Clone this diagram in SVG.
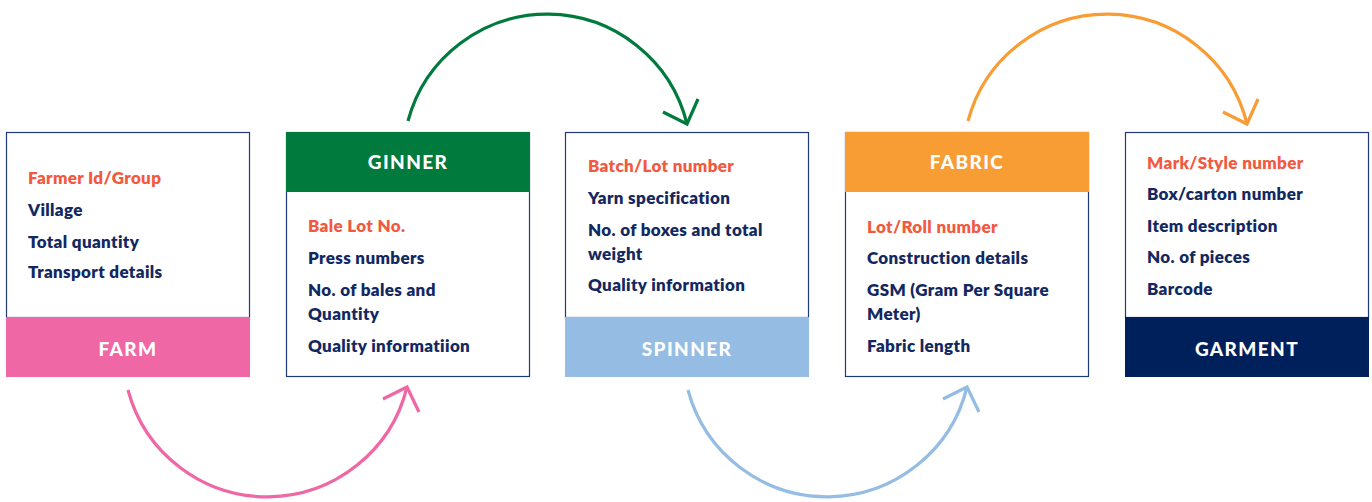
<svg xmlns="http://www.w3.org/2000/svg" width="1372" height="502" viewBox="0 0 1372 502">
<defs>
<style>
.box{fill:#fff;stroke:#1f3a78;stroke-width:1.2}
.it{font-family:Lato,"Liberation Sans",sans-serif;font-weight:800;font-size:17px;letter-spacing:0.35px;fill:#13285f}
.hl{fill:#f15a40}
.ttl{font-family:Lato,"Liberation Sans",sans-serif;font-weight:900;font-size:19px;fill:#fff;text-anchor:middle;letter-spacing:1.4px}
.arc{fill:none;stroke-width:3.2;stroke-linecap:butt;stroke-linejoin:miter}
</style>
</defs>
<rect width="1372" height="502" fill="#fff"/>
<g id="farm">
<rect class="box" x="6.5" y="132.5" width="243" height="185"/>
<rect x="6" y="317" width="244" height="60" fill="#f067a6"/>
<text class="ttl" x="128" y="356">FARM</text>
<text class="it hl" x="28" y="184">Farmer Id/Group</text>
<text class="it" x="28" y="216">Village</text>
<text class="it" x="28" y="248">Total quantity</text>
<text class="it" x="28" y="278">Transport details</text>
</g>
<g id="ginner">
<rect class="box" x="286.5" y="132.5" width="243" height="244"/>
<rect x="286" y="132" width="244" height="60" fill="#007a3d"/>
<text class="ttl" x="408" y="169">GINNER</text>
<text class="it hl" x="308" y="232">Bale Lot No.</text>
<text class="it" x="308" y="264">Press numbers</text>
<text class="it" x="308" y="296">No. of bales and</text>
<text class="it" x="308" y="320">Quantity</text>
<text class="it" x="308" y="352">Quality informatiion</text>
</g>
<g id="spinner">
<rect class="box" x="565.5" y="132.5" width="243" height="185"/>
<rect x="565" y="317" width="244" height="60" fill="#95bce3"/>
<text class="ttl" x="687" y="356">SPINNER</text>
<text class="it hl" x="588" y="172">Batch/Lot number</text>
<text class="it" x="588" y="204">Yarn specification</text>
<text class="it" x="588" y="236">No. of boxes and total</text>
<text class="it" x="588" y="260">weight</text>
<text class="it" x="588" y="291">Quality information</text>
</g>
<g id="fabric">
<rect class="box" x="845.5" y="132.5" width="243" height="244"/>
<rect x="845" y="132" width="244" height="60" fill="#f89c34"/>
<text class="ttl" x="967" y="169">FABRIC</text>
<text class="it hl" x="867" y="233">Lot/Roll number</text>
<text class="it" x="867" y="264">Construction details</text>
<text class="it" x="867" y="296">GSM (Gram Per Square</text>
<text class="it" x="867" y="320">Meter)</text>
<text class="it" x="867" y="352">Fabric length</text>
</g>
<g id="garment">
<rect class="box" x="1125.5" y="132.5" width="243" height="185"/>
<rect x="1125" y="317" width="244" height="60" fill="#00205b"/>
<text class="ttl" x="1247" y="356">GARMENT</text>
<text class="it hl" x="1147" y="169">Mark/Style number</text>
<text class="it" x="1147" y="200">Box/carton number</text>
<text class="it" x="1147" y="232">Item description</text>
<text class="it" x="1147" y="263">No. of pieces</text>
<text class="it" x="1147" y="295">Barcode</text>
</g>
<g id="connectors">
<path class="arc" stroke="#f067a6" d="M128,390 A144,144 0 0 0 407,387"/>
<polyline class="arc" stroke="#f067a6" points="383,399 407,387 419,412"/>
<path class="arc" stroke="#007a3d" d="M408,121 A144,144 0 0 1 687,124"/>
<polyline class="arc" stroke="#007a3d" points="663,112 687,124 698,99"/>
<path class="arc" stroke="#95bce3" d="M688,390 A144,144 0 0 0 967,387"/>
<polyline class="arc" stroke="#95bce3" points="943,399 967,387 979,412"/>
<path class="arc" stroke="#f89c34" d="M968,121 A144,144 0 0 1 1247,124"/>
<polyline class="arc" stroke="#f89c34" points="1223,112 1247,124 1258,99"/>
</g>
</svg>
